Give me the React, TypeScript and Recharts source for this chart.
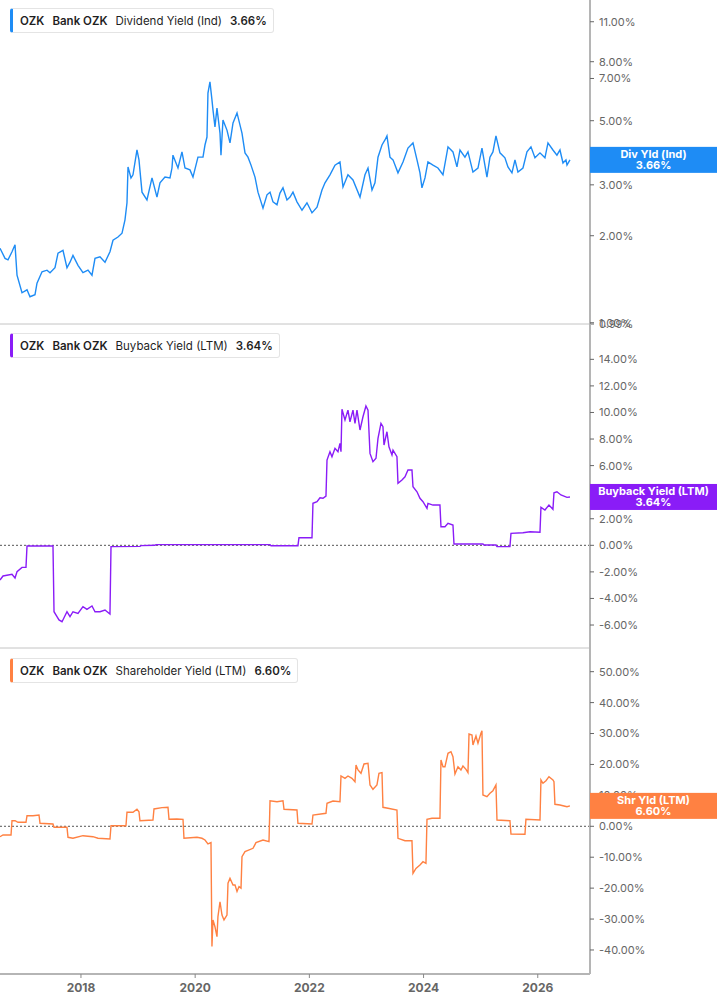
import { Line, LineChart, ReferenceDot, ReferenceLine, XAxis, YAxis } from 'recharts';

// decimal years, shared axis range
const X_DOMAIN: [number, number] = [2016.582, 2026.915];
const YEAR_TICKS = [2018, 2020, 2022, 2024, 2026];

const divDates = [
  2016.582, 2016.67, 2016.722, 2016.792, 2016.845, 2016.88, 2016.967, 2017.055, 2017.107, 2017.195,
  2017.23, 2017.318, 2017.405, 2017.458, 2017.545, 2017.598, 2017.685, 2017.755, 2017.808, 2017.86,
  2017.948, 2018.035, 2018.123, 2018.193, 2018.246, 2018.333, 2018.421, 2018.508, 2018.561, 2018.648,
  2018.719, 2018.771, 2018.806, 2018.824, 2018.876, 2018.911, 2018.981, 2019.016, 2019.069, 2019.156,
  2019.244, 2019.331, 2019.384, 2019.471, 2019.559, 2019.594, 2019.611, 2019.699, 2019.769, 2019.822,
  2019.909, 2019.962, 2020.049, 2020.137, 2020.172, 2020.207, 2020.224, 2020.259, 2020.294, 2020.312,
  2020.347, 2020.382, 2020.435, 2020.452, 2020.487, 2020.557, 2020.61, 2020.663, 2020.733, 2020.82,
  2020.873, 2020.925, 2020.978, 2021.048, 2021.1, 2021.188, 2021.258, 2021.311, 2021.363, 2021.433,
  2021.485, 2021.538, 2021.608, 2021.661, 2021.713, 2021.783, 2021.871, 2021.958, 2022.046, 2022.134,
  2022.221, 2022.274, 2022.361, 2022.449, 2022.536, 2022.589, 2022.676, 2022.764, 2022.887, 2022.974,
  2023.027, 2023.097, 2023.149, 2023.202, 2023.272, 2023.324, 2023.359, 2023.412, 2023.465, 2023.552,
  2023.64, 2023.727, 2023.815, 2023.885, 2023.937, 2023.972, 2024.025, 2024.077, 2024.165, 2024.252,
  2024.34, 2024.428, 2024.515, 2024.585, 2024.638, 2024.725, 2024.778, 2024.865, 2024.953, 2025.023,
  2025.11, 2025.163, 2025.215, 2025.268, 2025.338, 2025.425, 2025.478, 2025.548, 2025.601, 2025.653,
  2025.741, 2025.811, 2025.881, 2025.951, 2026.039, 2026.126, 2026.179, 2026.266, 2026.336, 2026.389,
  2026.442, 2026.494, 2026.512, 2026.564,
];
const divValues = [
  1.81, 1.67, 1.65, 1.76, 1.86, 1.46, 1.27, 1.3, 1.23, 1.25,
  1.37, 1.5, 1.52, 1.49, 1.55, 1.74, 1.78, 1.55, 1.62, 1.71,
  1.58, 1.49, 1.52, 1.46, 1.67, 1.69, 1.62, 1.76, 1.93, 1.98,
  2.04, 2.27, 2.6, 3.46, 3.17, 3.25, 3.96, 3.66, 2.83, 2.66,
  3.17, 2.72, 3.05, 3.19, 3.17, 3.43, 3.8, 3.43, 3.9, 3.43,
  3.38, 3.19, 3.74, 3.74, 4.12, 4.39, 6.23, 6.81, 5.9, 5.45,
  4.76, 5.53, 4.53, 3.8, 5.03, 4.64, 4.19, 4.91, 5.32, 4.53,
  3.87, 3.74, 3.51, 3.19, 2.83, 2.49, 2.77, 2.83, 2.62, 2.56,
  2.81, 2.93, 2.66, 2.72, 2.83, 2.62, 2.45, 2.6, 2.4, 2.51,
  2.88, 3.05, 3.25, 3.51, 3.6, 2.95, 3.25, 3.12, 2.72, 3.25,
  3.43, 2.88, 3.05, 3.74, 4.12, 4.29, 4.43, 3.74, 3.66, 3.3,
  3.6, 4.02, 4.19, 3.66, 3.3, 2.93, 3.17, 3.6, 3.51, 3.43,
  3.25, 4.06, 3.9, 3.46, 3.96, 3.74, 3.9, 3.32, 3.43, 4.02,
  3.19, 3.74, 3.9, 4.43, 3.87, 3.72, 3.46, 3.3, 3.66, 3.32,
  3.43, 3.9, 4.06, 3.72, 3.87, 3.72, 4.19, 3.96, 3.8, 3.96,
  3.57, 3.66, 3.51, 3.66,
];

const bbDates = [
  2016.582, 2016.635, 2016.792, 2016.845, 2016.88, 2016.967, 2017.037, 2017.055, 2017.51, 2017.528,
  2017.58, 2017.615, 2017.668, 2017.703, 2017.755, 2017.808, 2017.86, 2017.948, 2018.035, 2018.105,
  2018.193, 2018.246, 2018.333, 2018.421, 2018.508, 2018.526, 2019.033, 2019.051, 2019.296, 2019.314,
  2021.311, 2021.328, 2021.8, 2021.818, 2022.046, 2022.063, 2022.134, 2022.186, 2022.239, 2022.291,
  2022.309, 2022.361, 2022.396, 2022.449, 2022.501, 2022.536, 2022.554, 2022.571, 2022.624, 2022.676,
  2022.711, 2022.764, 2022.799, 2022.834, 2022.887, 2022.939, 2022.991, 2023.027, 2023.062, 2023.114,
  2023.167, 2023.202, 2023.254, 2023.289, 2023.307, 2023.359, 2023.394, 2023.447, 2023.465, 2023.534,
  2023.552, 2023.622, 2023.675, 2023.727, 2023.797, 2023.815, 2023.885, 2023.937, 2023.99, 2024.06,
  2024.077, 2024.165, 2024.287, 2024.305, 2024.375, 2024.428, 2024.515, 2024.533, 2025.04, 2025.058,
  2025.268, 2025.286, 2025.513, 2025.531, 2025.741, 2025.864, 2026.039, 2026.056, 2026.126, 2026.196,
  2026.266, 2026.284, 2026.336, 2026.406, 2026.459, 2026.512, 2026.564,
];
const bbValues = [
  -2.61, -2.31, -2.18, -2.46, -1.99, -1.66, -1.66, -0.05, -0.05, -5.0,
  -5.37, -5.62, -5.75, -5.45, -5.0, -5.37, -5.0, -5.12, -4.62, -4.82,
  -4.57, -5.0, -5.0, -4.87, -5.17, -0.1, -0.08, -0.02, 0.0, 0.05,
  0.05, -0.03, -0.03, 0.57, 0.57, 3.16, 3.28, 3.58, 3.54, 3.71,
  6.42, 7.05, 6.67, 7.3, 7.05, 7.68, 7.05, 10.24, 9.43, 10.18,
  9.3, 10.18, 9.18, 10.18, 8.68, 9.68, 10.49, 10.18, 6.92, 6.29,
  6.55, 8.05, 9.18, 8.93, 7.55, 8.55, 7.42, 6.8, 7.17, 6.67,
  4.67, 4.92, 5.16, 5.67, 5.67, 4.41, 4.03, 3.54, 3.28, 2.78,
  3.16, 3.03, 3.03, 1.4, 1.4, 1.66, 1.53, 0.1, 0.1, 0.02,
  0.02, -0.1, -0.1, 0.9, 0.95, 1.02, 0.98, 2.86, 2.66, 3.03,
  2.71, 3.96, 4.03, 3.79, 3.71, 3.61, 3.64,
];

const shDates = [
  2016.582, 2016.635, 2016.775, 2016.792, 2016.845, 2016.897, 2017.037, 2017.055, 2017.16, 2017.265,
  2017.283, 2017.51, 2017.528, 2017.755, 2017.773, 2017.86, 2018.035, 2018.21, 2018.298, 2018.508,
  2018.526, 2018.788, 2018.806, 2018.911, 2018.981, 2019.016, 2019.033, 2019.261, 2019.279, 2019.419,
  2019.524, 2019.542, 2019.681, 2019.787, 2019.804, 2020.032, 2020.119, 2020.172, 2020.224, 2020.277,
  2020.294, 2020.312, 2020.347, 2020.382, 2020.399, 2020.435, 2020.47, 2020.505, 2020.557, 2020.575,
  2020.61, 2020.663, 2020.698, 2020.733, 2020.768, 2020.803, 2020.82, 2020.873, 2021.013, 2021.065,
  2021.188, 2021.293, 2021.311, 2021.433, 2021.538, 2021.556, 2021.783, 2021.8, 2022.046, 2022.063,
  2022.291, 2022.309, 2022.414, 2022.536, 2022.554, 2022.624, 2022.676, 2022.746, 2022.799, 2022.817,
  2022.852, 2022.904, 2022.957, 2023.027, 2023.062, 2023.114, 2023.184, 2023.219, 2023.272, 2023.289,
  2023.377, 2023.534, 2023.552, 2023.675, 2023.797, 2023.815, 2023.867, 2023.937, 2023.99, 2024.042,
  2024.06, 2024.147, 2024.287, 2024.305, 2024.34, 2024.375, 2024.428, 2024.48, 2024.515, 2024.55,
  2024.603, 2024.655, 2024.69, 2024.743, 2024.778, 2024.796, 2024.848, 2024.865, 2024.918, 2024.953,
  2025.005, 2025.023, 2025.04, 2025.11, 2025.163, 2025.215, 2025.268, 2025.286, 2025.513, 2025.531,
  2025.776, 2025.793, 2026.039, 2026.056, 2026.091, 2026.144, 2026.196, 2026.266, 2026.284, 2026.301,
  2026.389, 2026.459, 2026.512, 2026.564,
];
const shValues = [
  -3.36, -2.81, -2.81, 1.81, 1.81, 1.29, 1.29, 3.43, 3.43, 3.65,
  0.97, 0.74, -0.32, -0.32, -3.56, -3.88, -3.04, -3.36, -3.88, -4.11,
  0.19, 0.19, 4.53, 4.53, 5.5, 4.72, 1.81, 2.04, 5.6, 6.02,
  6.14, 2.26, 2.36, 2.26, -3.88, -3.56, -3.88, -4.43, -5.72, -5.3,
  -38.9, -30.3, -32.5, -35.7, -29.2, -24.4, -28.7, -30.3, -28.7, -18.4,
  -16.8, -19.0, -19.0, -21.1, -19.5, -20.0, -9.83, -8.21, -7.12, -5.3,
  -4.43, -4.97, 8.28, 7.96, 8.28, 5.5, 5.27, 0.97, 0.74, 3.65,
  4.2, 7.44, 8.18, 7.96, 16.27, 15.52, 16.27, 15.52, 14.42, 19.83,
  18.21, 17.14, 20.15, 20.37, 13.36, 11.97, 13.36, 17.14, 17.34, 6.14,
  5.82, 5.27, -3.88, -4.66, -4.66, -15.2, -13.6, -12.5, -11.45, -12.0,
  2.26, 2.59, 2.59, 21.44, 19.28, 19.28, 23.61, 24.13, 22.51, 16.91,
  19.28, 18.21, 19.5, 18.43, 17.34, 29.85, 29.53, 26.29, 29.2, 26.84,
  30.08, 30.92, 10.12, 9.57, 10.67, 11.51, 13.36, 2.04, 1.81, -2.49,
  -2.59, 2.26, 2.04, 14.97, 13.91, 14.75, 16.04, 14.97, 14.42, 7.12,
  6.89, 6.57, 6.34, 6.6,
];

const DIV_TICKS = [0.99, 1, 2, 3, 5, 7, 8, 11];
const BB_TICKS = [-6, -4, -2, 0, 2, 4, 6, 8, 10, 12, 14];
const SH_TICKS = [-40, -30, -20, -10, 0, 10, 20, 30, 40, 50];

const BLUE = '#1e8cf5';
const PURPLE = '#8a1cf7';
const ORANGE = '#ff8142';
const FONT = 'Inter, "Noto Sans", sans-serif';

const toRows = (dates: number[], values: number[]) => dates.map((t, i) => ({ t, v: values[i] }));
const pct = (v: number) => `${v.toFixed(2)}%`;

function ValueTag(props: any) {
  const { cx, cy, fill, title, value } = props;
  if (cx == null || cy == null) return null;
  return (
    <g>
      <rect x={cx} y={cy - 13} width={127} height={26} fill={fill} />
      <text x={cx + 63.5} y={cy - 2} textAnchor="middle" fill="#fff" fontSize={11} fontWeight={700}>
        {title}
      </text>
      <text x={cx + 63.5} y={cy + 9.5} textAnchor="middle" fill="#fff" fontSize={11} fontWeight={700}>
        {value}
      </text>
    </g>
  );
}

type PanelProps = {
  rows: { t: number; v: number }[];
  color: string;
  domain: [number, number];
  ticks: number[];
  log?: boolean;
  height: number;
  showX?: boolean;
  zero?: boolean;
  tag: string;
};

function Panel({ rows, color, domain, ticks, log, height, showX, zero, tag }: PanelProps) {
  const last = rows[rows.length - 1].v;
  return (
    <LineChart width={717} height={height} data={rows} margin={{ top: 0, right: 0, bottom: 0, left: 0 }}>
      <XAxis
        dataKey="t"
        type="number"
        domain={X_DOMAIN}
        ticks={YEAR_TICKS}
        allowDataOverflow
        hide={!showX}
        height={31}
        tickSize={4}
        tickMargin={5}
        interval={0}
        tickFormatter={(v) => String(v)}
        axisLine={{ stroke: '#b5b5b5', strokeWidth: 2 }}
        tickLine={{ stroke: '#888' }}
        tick={{ fill: '#666', fontSize: 12, fontWeight: 700 }}
      />
      <YAxis
        orientation="right"
        type="number"
        width={127}
        scale={log ? 'log' : 'linear'}
        domain={domain}
        ticks={ticks}
        allowDataOverflow
        interval={0}
        tickSize={4}
        tickMargin={5}
        tickFormatter={pct}
        axisLine={{ stroke: '#b5b5b5', strokeWidth: 2 }}
        tickLine={{ stroke: '#666' }}
        tick={{ fill: '#666', fontSize: 11 }}
      />
      {!showX && <ReferenceLine y={domain[0]} stroke="#c4c4c4" strokeWidth={1} />}
      {zero && <ReferenceLine y={0} stroke="#555" strokeDasharray="2 2" />}
      <Line
        type="linear"
        dataKey="v"
        stroke={color}
        strokeWidth={1.4}
        dot={false}
        activeDot={false}
        isAnimationActive={false}
      />
      <ReferenceDot
        x={X_DOMAIN[1]}
        y={last}
        r={0}
        ifOverflow="visible"
        zIndex={3000}
        shape={(p: any) => <ValueTag {...p} fill={color} title={tag} value={pct(last)} />}
      />
    </LineChart>
  );
}

function Header({ top, color, label, value }: { top: number; color: string; label: string; value: number }) {
  return (
    <div
      style={{
        position: 'absolute',
        left: 10,
        top,
        height: 25,
        boxSizing: 'border-box',
        display: 'flex',
        alignItems: 'center',
        gap: 8,
        padding: '0 6px 0 7px',
        background: '#fff',
        border: '1px solid #e4e4e4',
        borderLeft: `3px solid ${color}`,
        borderRadius: 3,
        fontSize: 11.5,
        color: '#1f1f1f',
        whiteSpace: 'nowrap',
      }}
    >
      <span style={{ fontWeight: 600 }}>OZK</span>
      <span style={{ fontWeight: 600 }}>Bank OZK</span>
      <span>{label}</span>
      <span style={{ fontWeight: 600 }}>{pct(value)}</span>
    </div>
  );
}

export default function App() {
  const divRows = toRows(divDates, divValues);
  const bbRows = toRows(bbDates, bbValues);
  const shRows = toRows(shDates, shValues);

  return (
    <div style={{ position: 'absolute', left: 0, top: 0, width: 717, height: 1005, background: '#fff', fontFamily: FONT }}>
      <style>{'.recharts-surface { overflow: visible; } .recharts-wrapper { overflow: visible; }'}</style>
      <Panel rows={divRows} color={BLUE} domain={[0.99, 13.08]} ticks={DIV_TICKS} log height={324} tag="Div Yld (Ind)" />
      <Panel rows={bbRows} color={PURPLE} domain={[-7.73, 16.66]} ticks={BB_TICKS} height={324} zero tag="Buyback Yield (LTM)" />
      <Panel rows={shRows} color={ORANGE} domain={[-47.77, 57.66]} ticks={SH_TICKS} height={357} showX zero tag="Shr Yld (LTM)" />
      <Header top={8} color={BLUE} label="Dividend Yield (Ind)" value={divValues[divValues.length - 1]} />
      <Header top={333} color={PURPLE} label="Buyback Yield (LTM)" value={bbValues[bbValues.length - 1]} />
      <Header top={658} color={ORANGE} label="Shareholder Yield (LTM)" value={shValues[shValues.length - 1]} />
    </div>
  );
}
